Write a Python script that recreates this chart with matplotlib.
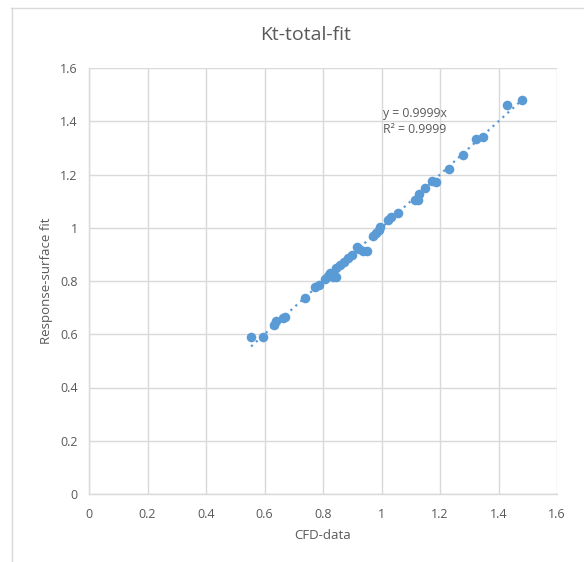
import matplotlib
matplotlib.use("Agg")
import matplotlib.pyplot as plt
import numpy as np
from matplotlib.lines import Line2D

cfd_data = [0.554, 0.595, 0.632, 0.639, 0.663, 0.670, 0.738, 0.773, 0.786, 0.807,
            0.817, 0.824, 0.834, 0.844, 0.844, 0.858, 0.872, 0.885, 0.899, 0.916,
            0.923, 0.937, 0.950, 0.971, 0.981, 0.991, 0.995, 1.022, 1.032, 1.056,
            1.115, 1.128, 1.125, 1.149, 1.173, 1.186, 1.231, 1.279, 1.323, 1.347,
            1.429, 1.480]
rs_fit = [0.590, 0.590, 0.635, 0.650, 0.661, 0.665, 0.736, 0.777, 0.785, 0.807,
          0.819, 0.830, 0.815, 0.815, 0.849, 0.860, 0.871, 0.886, 0.898, 0.928,
          0.920, 0.913, 0.913, 0.969, 0.980, 0.992, 1.003, 1.029, 1.040, 1.055,
          1.104, 1.127, 1.104, 1.149, 1.176, 1.172, 1.221, 1.273, 1.333, 1.341,
          1.461, 1.480]
slope = 0.9999
ticks = [0, 0.2, 0.4, 0.6, 0.8, 1, 1.2, 1.4, 1.6]
tick_labels = ["0", "0.2", "0.4", "0.6", "0.8", "1", "1.2", "1.4", "1.6"]

plt.rcParams['font.family'] = ['Open Sans', 'DejaVu Sans']
txt = '#595959'
grid = '#d9d9d9'
blue = '#5b9bd5'

fig = plt.figure(figsize=(5.84, 5.62), dpi=100)
ax = fig.add_axes([89/584, 1-494/562, 468/584, 426/562])

ax.set_xlim(0, 1.6)
ax.set_ylim(0, 1.6)
ax.set_xticks(ticks)
ax.set_xticklabels(tick_labels)
ax.set_yticks(ticks)
ax.set_yticklabels(tick_labels)
ax.grid(True, color=grid, linewidth=1)
ax.set_axisbelow(True)
for s in ['top', 'right']:
    ax.spines[s].set_visible(False)
for s in ['left', 'bottom']:
    ax.spines[s].set_color(grid)
    ax.spines[s].set_linewidth(1)
ax.tick_params(axis='x', length=0, colors=txt, labelsize=9, pad=10)
ax.tick_params(axis='y', length=0, colors=txt, labelsize=9, pad=8)

ax.scatter(cfd_data, rs_fit, s=48, color=blue, zorder=3, linewidths=0)
xs = np.array([min(cfd_data), max(cfd_data)])
ax.plot(xs, slope * xs, linestyle=(0, (1, 2)), color=blue, linewidth=1.6, zorder=2)

ax.text(1.005, 1.345, "y = 0.9999x\nR² = 0.9999", color=txt, fontsize=8.8,
        linespacing=1.3, va='bottom', ha='left')

ax.set_xlabel("CFD-data", color=txt, fontsize=9.5, labelpad=6)
ax.set_ylabel("Response-surface fit", color=txt, fontsize=9.5, labelpad=5)
fig.text(306/584, 1-35/562, "Kt-total-fit", color=txt, fontsize=14, ha='center', va='center')

fig.add_artist(Line2D([11/584, 1.0], [1-8/562, 1-8/562], color=grid, linewidth=1, transform=fig.transFigure))
fig.add_artist(Line2D([12/584, 12/584], [0, 1-8/562], color=grid, linewidth=1, transform=fig.transFigure))

fig.savefig("out.png", dpi=100)
